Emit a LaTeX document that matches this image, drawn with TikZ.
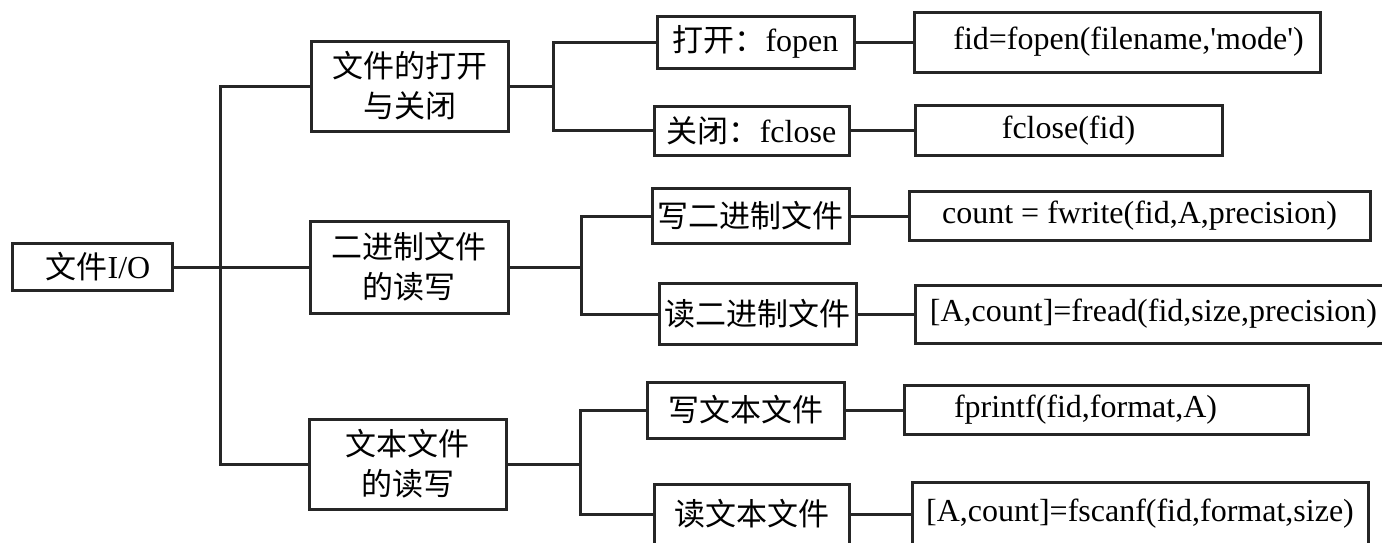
\documentclass[tikz,border=0pt]{standalone}
\usepackage{fontspec}
\setmainfont{Liberation Serif}
\newfontfamily\cjk{Noto Sans CJK SC}
\newcommand\zh[1]{{\cjk\fontsize{31}{40}\selectfont #1}}
\begin{document}
\begin{tikzpicture}[x=1pt,y=-1pt,
  box/.style={draw=black!85,line width=3pt,inner sep=0pt,align=center,font=\fontsize{32}{40}\selectfont},
  conn/.style={draw=black!85,line width=3pt}]
\useasboundingbox (0,0) rectangle (1382,542);
\clip (0,0) rectangle (1382,542);
\fill[white] (0,0) rectangle (1382,542);
% root
\node[box,minimum width=160,minimum height=47] (root) at (92,267) {\hspace*{12pt}\zh{文件}I/O};
% level 1
\node[box,minimum width=197,minimum height=90] (L1a) at (409.5,86) {\zh{文件的打开}\\\zh{与关闭}};
\node[box,minimum width=198,minimum height=92] (L1b) at (409,267) {\zh{二进制文件}\\\zh{的读写}};
\node[box,minimum width=197,minimum height=90] (L1c) at (407.5,464) {\zh{文本文件}\\\zh{的读写}};
% level 2
\node[box,minimum width=197,minimum height=52] (a1) at (755.5,42) {\zh{打开：}fopen};
\node[box,minimum width=195,minimum height=49] (a2) at (751.5,130.5) {\zh{关闭：}fclose};
\node[box,minimum width=197,minimum height=55] (b1) at (750.5,216) {\zh{写二进制文件}};
\node[box,minimum width=197,minimum height=61] (b2) at (757.5,314) {\zh{读二进制文件}};
\node[box,minimum width=197,minimum height=56] (c1) at (745.5,410) {\zh{写文本文件}};
\node[box,minimum width=195,minimum height=60] (c2) at (751.5,514) {\zh{读文本文件}};
% level 3
\node[box,minimum width=406,minimum height=60] (d1) at (1117,42) {\hspace*{23pt}fid=fopen(filename,\textquotesingle mode\textquotesingle)};
\node[box,minimum width=307,minimum height=50] (d2) at (1068.5,130.5) {fclose(fid)};
\node[box,minimum width=461,minimum height=49] (d3) at (1139.5,216) {count = fwrite(fid,A,precision)};
\node[box,minimum width=477,minimum height=58] (d4) at (1153.5,314) {[A,count]=fread(fid,size,precision)};
\node[box,minimum width=404,minimum height=49] (d5) at (1106,410) {fprintf(fid,format,A)\hspace*{41pt}};
\node[box,minimum width=456,minimum height=64] (d6) at (1140,514) {[A,count]=fscanf(fid,format,size)};
% junctions
\coordinate (t) at (220,267);
\coordinate (ja) at (553,86);
\coordinate (jb) at (581,267);
\coordinate (jc) at (580,464);
% connectors
\draw[conn] (root.east) -- (t);
\draw[conn] (L1a.west) -| (t) |- (L1c.west);
\draw[conn] (t) -- (L1b.west);
\draw[conn] (L1a.east) -- (ja);
\draw[conn] (a1.west) -| (ja) |- (a2.west);
\draw[conn] (L1b.east) -- (jb);
\draw[conn] (b1.west) -| (jb) |- (b2.west);
\draw[conn] (L1c.east) -- (jc);
\draw[conn] (c1.west) -| (jc) |- (c2.west);
\draw[conn] (a1) -- (d1);
\draw[conn] (a2) -- (d2);
\draw[conn] (b1) -- (d3);
\draw[conn] (b2) -- (d4);
\draw[conn] (c1) -- (d5);
\draw[conn] (c2) -- (d6);
\end{tikzpicture}
\end{document}
